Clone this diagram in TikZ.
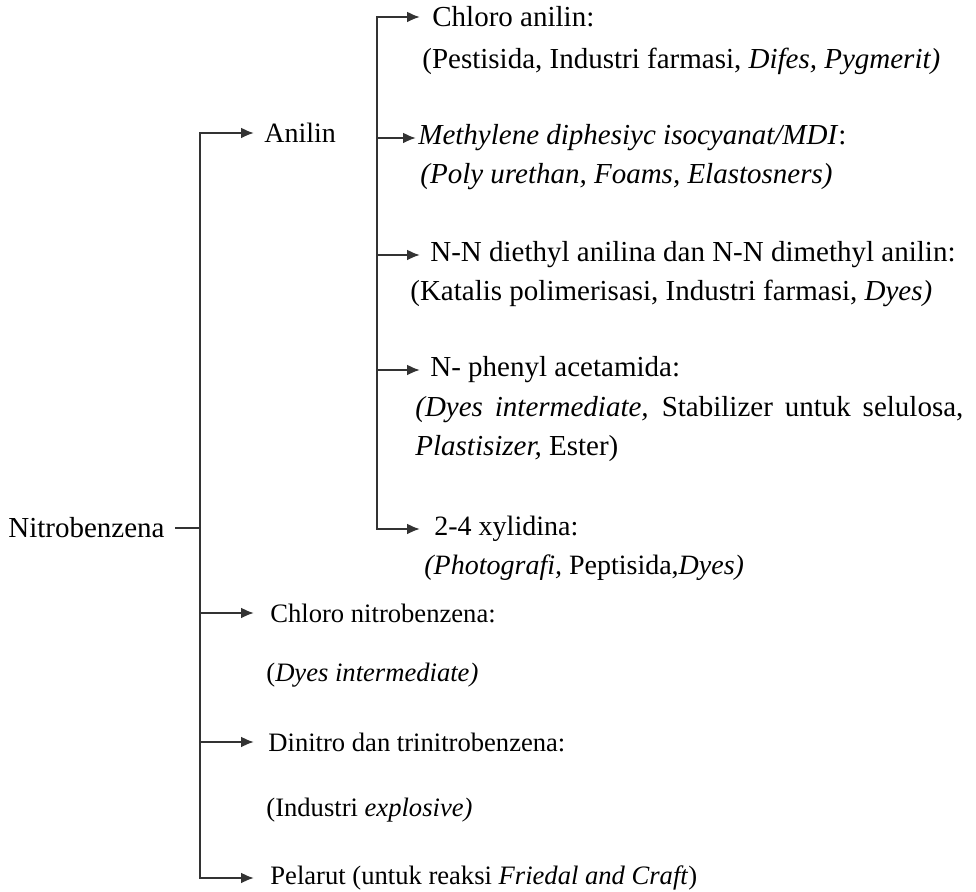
\documentclass[tikz,border=0pt]{standalone}
\usepackage{fontspec}
\setmainfont{Liberation Serif}
\usetikzlibrary{arrows.meta}
\usetikzlibrary{positioning}

\begin{document}
\begin{tikzpicture}[x=0.5pt, y=-0.5pt,
    big/.style={font=\fontsize{14.5}{17}\selectfont},
    mid/.style={font=\fontsize{14}{16}\selectfont},
    small/.style={font=\fontsize{13.3}{15}\selectfont},
    item/.style={anchor=west, inner xsep=6pt, inner ysep=0pt},
    note/.style={anchor=west, inner sep=0pt},
    link/.style={line width=1.1pt, black!80},
    arr/.style={link, -{Latex[length=6.5pt, width=5.5pt]}}]
  \useasboundingbox (0,0) rectangle (976,892);

  % level 1
  \node[big, anchor=east, inner xsep=5pt, inner ysep=0pt] (nitro) at (175,528) {Nitrobenzena};
  \node[mid, item, inner xsep=5pt] (anilin) at (254,133) {Anilin};
  \node[small, item, inner xsep=8pt] (clnitro) at (254,613) {Chloro nitrobenzena:};
  \node[small, note] (clnitroUse) at (266,675) {(\textit{Dyes intermediate)}};
  \node[small, item, inner xsep=7pt] (dinitro) at (254,742) {Dinitro dan trinitrobenzena:};
  \node[small, note] (dinitroUse) at (266,810) {(Industri \textit{explosive)}};
  \node[small, item, inner xsep=8pt] (pelarut) at (254,878) {Pelarut (untuk reaksi \textit{Friedal and Craft})};

  % level 2 (anilin)
  \node[big, item] (clanil) at (420,17) {Chloro anilin:};
  \node[big, note] (clanilUse) at (422,61) {(Pestisida, Industri farmasi, \textit{Difes, Pygmerit)}};
  \node[big, item, inner xsep=1pt] (mdi) at (416,138) {\textit{Methylene diphesiyc isocyanat/MDI}:};
  \node[big, note] (mdiUse) at (420,177) {\textit{(Poly urethan, Foams, Elastosners)}};
  \node[big, item, inner xsep=5pt] (nndi) at (420,255) {N-N diethyl anilina dan N-N dimethyl anilin:};
  \node[big, note] (nndiUse) at (410,293) {(Katalis polimerisasi, Industri farmasi, \textit{Dyes)}};
  \node[big, item, inner xsep=5pt] (acet) at (420,370) {N- phenyl acetamida:};
  \node[big, note] (acetUse) at (415,410) {\makebox[274pt][s]{\textit{(Dyes intermediate,} Stabilizer untuk selulosa,}};
  \node[big, note] (acetUse2) at (415,449) {\textit{Plastisizer,} Ester)};
  \node[mid, item, inner xsep=7pt] (xyl) at (420,529) {2-4 xylidina:};
  \node[mid, note] (xylUse) at (424,568) {\textit{(Photografi,} Peptisida,\textit{Dyes)}};

  \coordinate (trunkTop) at (200,133);
  \coordinate (trunkMid) at (200,528);
  \coordinate (trunkBot) at (200,878);
  \coordinate (branchTop) at (377,17);
  \coordinate (branchBot) at (377,529);

  \draw[link] (nitro.east) -- (trunkMid);
  \draw[arr] (trunkBot) |- (anilin.west);
  \draw[arr] (trunkTop) |- (pelarut.west);
  \draw[arr] (trunkMid |- clnitro) -- (clnitro.west);
  \draw[arr] (trunkMid |- dinitro) -- (dinitro.west);

  \draw[arr] (branchBot) |- (clanil.west);
  \draw[arr] (branchTop) |- (xyl.west);
  \draw[arr] (branchTop |- mdi) -- (mdi.west);
  \draw[arr] (branchTop |- nndi) -- (nndi.west);
  \draw[arr] (branchTop |- acet) -- (acet.west);
\end{tikzpicture}
\end{document}
